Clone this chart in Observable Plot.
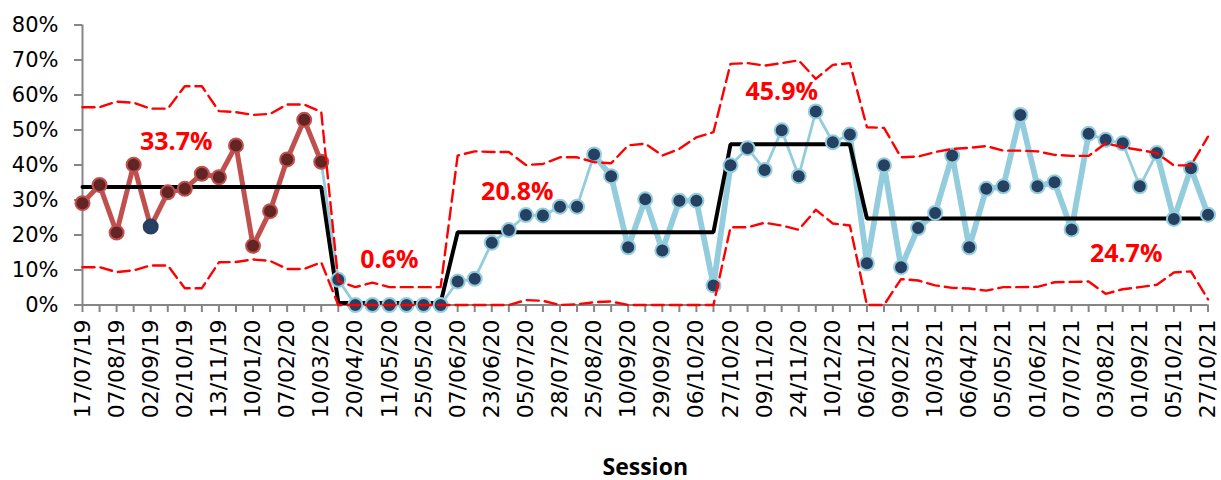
<!DOCTYPE html>
<html>
<head>
<meta charset="utf-8">
<script src="https://cdn.jsdelivr.net/npm/d3@7"></script>
<script src="https://cdn.jsdelivr.net/npm/@observablehq/plot@0.6"></script>
<style>
  html, body { margin: 0; padding: 0; background: #fff; }
  #chart { width: 1221px; height: 480px; }
</style>
</head>
<body>
<div id="chart"></div>
<script>
// Session dates shown on the axis (every other session is labelled)
const tickLabels = [
  "17/07/19", "07/08/19", "02/09/19", "02/10/19", "13/11/19", "10/01/20",
  "07/02/20", "10/03/20", "20/04/20", "11/05/20", "25/05/20", "07/06/20",
  "23/06/20", "05/07/20", "28/07/20", "25/08/20", "10/09/20", "29/09/20",
  "06/10/20", "27/10/20", "09/11/20", "24/11/20", "10/12/20", "06/01/21",
  "09/02/21", "10/03/21", "06/04/21", "05/05/21", "01/06/21", "07/07/21",
  "03/08/21", "01/09/21", "05/10/21", "27/10/21"
];

// Rate per session (%)
const rate = [
  29.1, 34.3, 20.7, 40.1, 22.4, 32.2, 33.2, 37.5, 36.5, 45.6,
  16.9, 26.8, 41.6, 52.9, 40.9, 7.2, 0, 0, 0, 0,
  0, 0, 6.7, 7.5, 17.8, 21.4, 25.7, 25.6, 28.1, 28.1,
  43.0, 36.8, 16.5, 30.2, 15.6, 29.8, 29.8, 5.6, 39.9, 44.8,
  38.6, 49.9, 36.8, 55.3, 46.5, 48.7, 11.9, 39.9, 10.8, 22.0,
  26.3, 42.7, 16.5, 33.2, 33.9, 54.3, 33.9, 35.1, 21.6, 48.9,
  47.2, 46.2, 33.9, 43.4, 24.6, 39.1, 25.8
];

// Upper control limit per session (%)
const ucl = [
  56.5, 56.5, 58.1, 57.8, 56.1, 56.1, 62.5, 62.5, 55.4, 55.1,
  54.3, 54.6, 57.3, 57.3, 55.2, 6.8, 5.1, 6.4, 5.1, 5.1,
  5.1, 5.1, 42.7, 43.9, 43.7, 43.7, 40.0, 40.3, 42.2, 42.2,
  40.8, 40.5, 45.6, 46.1, 42.7, 44.6, 47.9, 49.4, 68.9, 69.1,
  68.4, 69.1, 69.9, 64.6, 68.6, 69.1, 50.8, 50.6, 42.2, 42.4,
  43.7, 44.6, 44.9, 45.4, 44.1, 44.1, 43.9, 42.9, 42.6, 42.6,
  46.2, 45.1, 44.3, 43.4, 39.9, 39.9, 48.1
];

// Lower control limit per session (%)
const lcl = [
  10.8, 10.8, 9.4, 9.9, 11.3, 11.3, 4.8, 4.8, 12.2, 12.3,
  13.0, 12.6, 10.3, 10.3, 12.2, 0, 0, 0, 0, 0,
  0, 0, 0, 0, 0, 0, 1.4, 1.2, 0, 0.2,
  0.8, 1.0, 0, 0, 0, 0, 0, 0, 22.2, 22.2,
  23.5, 22.7, 21.5, 27.2, 23.3, 22.7, 0, 0, 7.4, 7.0,
  5.6, 4.9, 4.7, 4.1, 5.1, 5.1, 5.2, 6.5, 6.6, 6.7,
  3.2, 4.5, 5.1, 5.8, 9.3, 9.6, 1.6
];

// Phases: first session index and centre line (%)
const phaseStart = [0, 15, 22, 38, 46];
const phaseMean = [33.7, 0.6, 20.8, 45.9, 24.7];

// Where each phase's centre-line value is written (session index, %)
const phaseLabelX = [5.5, 18, 25.5, 41, 61.2];
const phaseLabelY = [46.5, 12.9, 32.2, 60.8, 14.6];

// ---- styling ----
const baselineEnd = 14;                       // last session of the baseline phase
const navyBaselinePoints = [4];               // baseline point drawn in navy
const thickRuns = [[30, 38], [45, 59], [63, 66]]; // stretches drawn with a heavy line

const RED_LINE = "#C0504D", RED_FILL = "#632523";
const BLUE_LINE = "#93CDDD", NAVY = "#254061";
const AXIS = "#868686";

const phaseOf = i => d3.bisectRight(phaseStart, i) - 1;
const rows = rate.map((v, i) => ({
  i, v, ucl: ucl[i], lcl: lcl[i], mean: phaseMean[phaseOf(i)]
}));

const baseline = rows.filter(d => d.i <= baselineEnd);
const followUp = rows.filter(d => d.i >= baselineEnd);
const thick = thickRuns.flatMap(([a, b], k) =>
  rows.filter(d => d.i >= a && d.i <= b).map(d => ({...d, run: k})));
const redDots = rows.filter(d => d.i <= baselineEnd && !navyBaselinePoints.includes(d.i));
const navyDots = rows.filter(d => d.i > baselineEnd || navyBaselinePoints.includes(d.i));
const labels = phaseMean.map((m, k) => ({x: phaseLabelX[k], y: phaseLabelY[k], text: m.toFixed(1) + "%"}));

const chart = Plot.plot({
  width: 1221,
  height: 480,
  marginLeft: 82,
  marginRight: 13.5,
  marginTop: 24.5,
  marginBottom: 175.5,
  x: {domain: [0, rate.length - 1]},
  y: {domain: [0, 80]},
  style: {fontFamily: "DejaVu Sans", color: "#000", background: "#fff", overflow: "visible"},
  marks: [
    Plot.axisY({
      ticks: d3.range(0, 81, 10), tickFormat: d => d + "%",
      tickSize: 8, tickPadding: 16, stroke: AXIS, strokeWidth: 2,
      fontSize: 21, label: null
    }),
    Plot.axisX({
      ticks: d3.range(0, rate.length),
      tickFormat: i => (i % 2 ? "" : tickLabels[i / 2]),
      tickRotate: -90, tickSize: 7.5, tickPadding: 7,
      stroke: AXIS, strokeWidth: 2, fontSize: 22, label: null
    }),
    Plot.ruleX([0], {stroke: AXIS, strokeWidth: 2}),
    Plot.ruleY([0], {stroke: AXIS, strokeWidth: 2}),
    // session rate lines
    Plot.line(followUp, {x: "i", y: "v", stroke: BLUE_LINE, strokeWidth: 2.8, strokeLinejoin: "round"}),
    Plot.line(thick, {x: "i", y: "v", z: "run", stroke: BLUE_LINE, strokeWidth: 5.8, strokeLinejoin: "round", strokeLinecap: "round"}),
    Plot.line(baseline, {x: "i", y: "v", stroke: RED_LINE, strokeWidth: 5, strokeLinejoin: "round"}),
    // centre line
    Plot.line(rows, {x: "i", y: "mean", stroke: "#000", strokeWidth: 4, strokeLinejoin: "miter"}),
    // markers
    Plot.dot(redDots, {x: "i", y: "v", r: 7, fill: RED_FILL, stroke: RED_LINE, strokeWidth: 2}),
    Plot.dot(navyDots, {x: "i", y: "v", r: 7, fill: NAVY, stroke: d => (d.i > baselineEnd ? BLUE_LINE : NAVY), strokeWidth: 2}),
    // control limits
    Plot.line(rows, {x: "i", y: "ucl", stroke: "#FF0000", strokeWidth: 2.4, strokeDasharray: "12,6"}),
    Plot.line(rows, {x: "i", y: "lcl", stroke: "#FF0000", strokeWidth: 2.4, strokeDasharray: "12,6"}),
    // centre-line values
    Plot.text(labels, {x: "x", y: "y", text: "text", fill: "#FF0000", fontWeight: "bold", fontSize: 25, fontFamily: "Open Sans", textAnchor: "middle"}),
    Plot.text(["Session"], {text: d => d, frameAnchor: "bottom", dy: 170, fontWeight: "bold", fontSize: 23, fontFamily: "Open Sans", fill: "#000"})
  ]
});

document.getElementById("chart").appendChild(chart);
</script>
</body>
</html>
